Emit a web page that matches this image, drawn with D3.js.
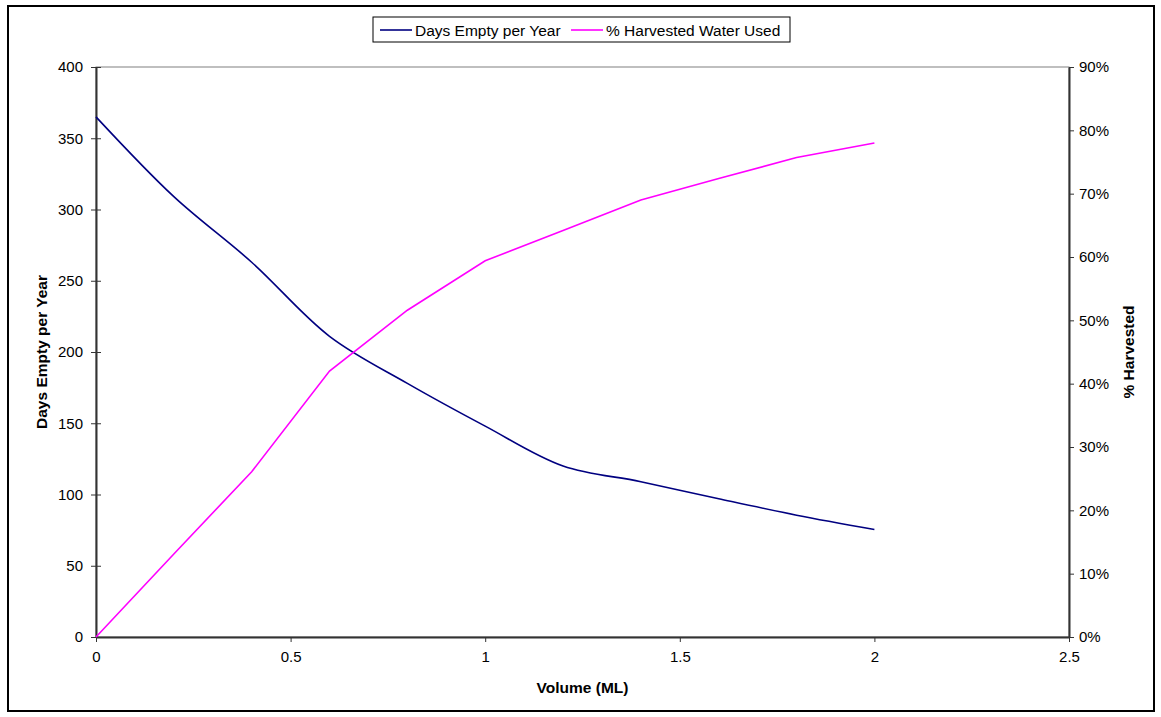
<!DOCTYPE html>
<html>
<head>
<meta charset="utf-8">
<script src="https://cdn.jsdelivr.net/npm/d3@7"></script>
<style>
  body { margin: 0; background: #fff; }
  svg { display: block; font-family: "Liberation Sans", Arial, sans-serif; }
</style>
</head>
<body>
<svg id="chart" width="1161" height="717"></svg>
<script>
// Storage volume (ML)
const volumes = [0, 0.2, 0.4, 0.6, 0.8, 1.0, 1.2, 1.4, 1.6, 1.8, 2.0];
// Days per year the tank sits empty
const daysEmpty = [365, 309, 263, 211, 178, 148, 120, 109, 97, 85.5, 75.5];
// Share of harvested water that gets used (%)
const pctHarvested = [0, 13.1, 26.1, 42.0, 51.6, 59.4, 64.2, 69.0, 72.4, 75.7, 78.0];

const xTicks = [0, 0.5, 1, 1.5, 2, 2.5];
const leftTicks = [0, 50, 100, 150, 200, 250, 300, 350, 400];
const rightTicks = [0, 10, 20, 30, 40, 50, 60, 70, 80, 90];

const seriesNames = ["Days Empty per Year", "% Harvested Water Used"];
const colors = ["#000080", "#ff00ff"];

const svg = d3.select("#chart");
const plot = { left: 96, right: 1069, top: 67, bottom: 637 };

// outer frame
svg.append("rect")
  .attr("x", 8).attr("y", 6).attr("width", 1146).attr("height", 705)
  .attr("fill", "#fff").attr("stroke", "#000").attr("stroke-width", 2);

const x = d3.scaleLinear().domain([0, 2.5]).range([plot.left, plot.right]);
const yL = d3.scaleLinear().domain([0, 400]).range([plot.bottom, plot.top]);
const yR = d3.scaleLinear().domain([0, 90]).range([plot.bottom, plot.top]);

// plot area border
svg.append("rect")
  .attr("x", plot.left).attr("y", plot.top)
  .attr("width", plot.right - plot.left).attr("height", plot.bottom - plot.top)
  .attr("fill", "none").attr("stroke", "#808080").attr("stroke-width", 1);

const axisColor = "#333";
const fontSize = 15;
const titleSize = 15.5;

function styleAxis(g) {
  g.select(".domain").attr("stroke", axisColor).attr("stroke-width", 2);
  g.selectAll(".tick line").attr("stroke", axisColor).attr("stroke-width", 1);
  g.selectAll(".tick text").attr("fill", "#000").attr("font-size", fontSize)
    .attr("font-family", "'Liberation Sans', Arial, sans-serif");
}

// left axis (ticks crossing the axis)
const gL = svg.append("g").attr("transform", `translate(${plot.left},0)`)
  .call(d3.axisLeft(yL).tickValues(leftTicks).tickSize(5).tickSizeOuter(0).tickPadding(8));
styleAxis(gL);
gL.selectAll(".tick line").attr("x1", 5);

// right axis
const gR = svg.append("g").attr("transform", `translate(${plot.right},0)`)
  .call(d3.axisRight(yR).tickValues(rightTicks).tickSize(5).tickSizeOuter(0).tickPadding(5)
    .tickFormat(d => d + "%"));
styleAxis(gR);

// bottom axis
const gB = svg.append("g").attr("transform", `translate(0,${plot.bottom})`)
  .call(d3.axisBottom(x).tickValues(xTicks).tickSize(5).tickSizeOuter(0).tickPadding(9)
    .tickFormat(d3.format("")));
styleAxis(gB);

// series lines
const lineDays = d3.line()
  .x((d, i) => x(volumes[i]))
  .y(d => yL(d))
  .curve(d3.curveCatmullRom.alpha(0.5));
const linePct = d3.line()
  .x((d, i) => x(volumes[i]))
  .y(d => yR(d));

svg.append("path").datum(daysEmpty)
  .attr("d", lineDays).attr("fill", "none")
  .attr("stroke", colors[0]).attr("stroke-width", 1.6);
svg.append("path").datum(pctHarvested)
  .attr("d", linePct).attr("fill", "none")
  .attr("stroke", colors[1]).attr("stroke-width", 1.6);

// axis titles
svg.append("text")
  .attr("transform", `translate(47,${(plot.top + plot.bottom) / 2}) rotate(-90)`)
  .attr("text-anchor", "middle").attr("font-size", titleSize).attr("font-weight", "bold")
  .text("Days Empty per Year");
svg.append("text")
  .attr("transform", `translate(1134,${(plot.top + plot.bottom) / 2}) rotate(-90)`)
  .attr("text-anchor", "middle").attr("font-size", titleSize).attr("font-weight", "bold")
  .text("% Harvested");
svg.append("text")
  .attr("x", (plot.left + plot.right) / 2).attr("y", 693)
  .attr("text-anchor", "middle").attr("font-size", titleSize).attr("font-weight", "bold")
  .text("Volume (ML)");

// legend
const legend = svg.append("g");
legend.append("rect")
  .attr("x", 373).attr("y", 17).attr("width", 417).attr("height", 25)
  .attr("fill", "#fff").attr("stroke", "#000").attr("stroke-width", 1);
const legendItems = [
  { name: seriesNames[0], color: colors[0], x0: 380 },
  { name: seriesNames[1], color: colors[1], x0: 571 }
];
legendItems.forEach(it => {
  legend.append("line")
    .attr("x1", it.x0).attr("x2", it.x0 + 32).attr("y1", 30).attr("y2", 30)
    .attr("stroke", it.color).attr("stroke-width", 1.6);
  legend.append("text")
    .attr("x", it.x0 + 35).attr("y", 35.5).attr("font-size", 15.5)
    .text(it.name);
});
</script>
</body>
</html>
